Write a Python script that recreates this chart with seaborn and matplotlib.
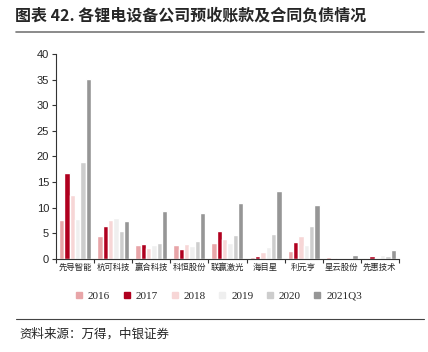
import numpy as np
import pandas as pd
import seaborn as sns
import matplotlib.pyplot as plt
from matplotlib.lines import Line2D

companies = ["先导智能", "杭可科技", "赢合科技", "科恒股份", "联赢激光",
             "海目星", "利元亨", "星云股份", "先惠技术"]
periods = ["2016", "2017", "2018", "2019", "2020", "2021Q3"]

v2016 = [7.7, 4.5, 2.7, 2.8, 3.2, 0.4, 1.6, 0.45, 0.25]
v2017 = [16.7, 6.4, 3.0, 1.9, 5.4, 0.6, 3.4, 0.3, 0.6]
v2018 = [12.4, 7.7, 2.2, 2.9, 4.0, 1.3, 4.5, 0.1, 0.2]
v2019 = [7.9, 8.1, 2.7, 2.5, 3.1, 2.4, 2.8, 0.1, 0.8]
v2020 = [19.0, 5.5, 3.1, 3.6, 4.7, 4.9, 6.4, 0.1, 0.6]
v2021q3 = [35.1, 7.5, 9.4, 9.0, 11.0, 13.2, 10.5, 0.7, 1.7]

colors = ["#E8A5A8", "#B0001F", "#F7D6D6", "#EFEFEF", "#CDCDCD", "#969696"]

rows = []
for p, vals in zip(periods, [v2016, v2017, v2018, v2019, v2020, v2021q3]):
    for c, v in zip(companies, vals):
        rows.append({"company": c, "period": p, "value": v})
df = pd.DataFrame(rows)

sns.set_style("ticks")
plt.rcParams["font.family"] = ["Noto Sans CJK SC", "DejaVu Sans"]

fig = plt.figure(figsize=(4.28, 3.52), dpi=100)
ax = fig.add_axes([0.131, 0.264, 0.801, 0.583])

sns.barplot(data=df, x="company", y="value", hue="period", palette=colors,
            width=0.84, gap=0.0, ax=ax, legend=False, saturation=1)

ax.set_xlim(-0.5, 8.5)
ax.set_ylim(0, 40)
ax.set_yticks(range(0, 41, 5))
ax.set_xlabel("")
ax.set_ylabel("")
sns.despine(ax=ax)
for s in ["left", "bottom"]:
    ax.spines[s].set_color("#333333")
    ax.spines[s].set_linewidth(0.8)

ax.tick_params(axis="y", labelsize=8, length=3, width=0.8, color="#333333", pad=2)
for lab in ax.get_yticklabels():
    lab.set_family(["Liberation Sans", "DejaVu Sans"])
ax.tick_params(axis="x", which="major", length=0, labelsize=6, pad=3)
ax.set_xticks(np.arange(-0.5, 9.0, 1.0), minor=True)
ax.tick_params(axis="x", which="minor", length=3, width=0.8, color="#333333")

handles = [Line2D([], [], marker="s", linestyle="", markersize=5,
                  markerfacecolor=c, markeredgecolor=c) for c in colors]
leg = fig.legend(handles, periods, loc="center", bbox_to_anchor=(0.51, 0.159),
                 ncol=6, frameon=False, handlelength=0.8, handletextpad=0.4,
                 columnspacing=1.1,
                 prop={"family": "Liberation Serif", "size": 8})

fig.text(0.035, 0.955, "图表 42. 各锂电设备公司预收账款及合同负债情况",
         fontsize=11.5, fontweight="bold", va="center", ha="left")
fig.add_artist(Line2D([0.037, 0.99], [0.909, 0.909], color="#777777", lw=1.2))
fig.add_artist(Line2D([0.037, 0.99], [0.094, 0.094], color="#444444", lw=0.8))
fig.text(0.045, 0.052, "资料来源：万得，中银证券", fontsize=9, style="italic",
         va="center", ha="left")

fig.savefig("out.png", dpi=100)
